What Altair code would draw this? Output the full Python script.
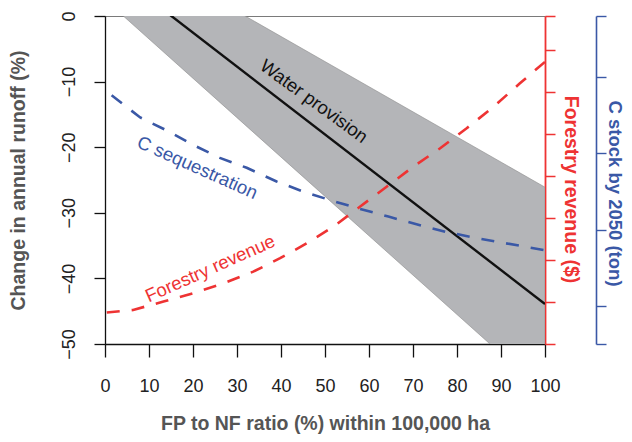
import altair as alt
import pandas as pd

# ---------------- data ----------------
x_ticks = [0, 10, 20, 30, 40, 50, 60, 70, 80, 90, 100]
y_ticks = [0, -10, -20, -30, -40, -50]

# Water provision (change in annual runoff, %) with its uncertainty band
water_x = [0, 100]
water_mid = [7.8, -43.9]
water_hi = [12.2, -26.1]
water_lo = [2.5, -57.5]

# C sequestration (right blue axis, unlabelled units)
cseq_x = [1.5, 8, 14, 20, 26.1, 32.2, 39, 45, 51.5, 58, 64.4, 70.8, 77.5, 84.3, 91.1, 100]
cseq_y = [3.76, 3.47, 3.30, 3.11, 2.94, 2.81, 2.63, 2.50, 2.38, 2.27, 2.17, 2.07, 1.97, 1.89, 1.82, 1.73]

# Forestry revenue (right red axis, unlabelled units)
rev_x = [0.4, 6.4, 13.3, 20.1, 26.9, 33.7, 39.8, 45.8, 51.9, 58, 64, 70.1, 76.1, 82.2, 88.3, 94.3, 100]
rev_y = [0.75, 0.81, 1.01, 1.21, 1.44, 1.72, 2.04, 2.39, 2.79, 3.27, 3.74, 4.22, 4.65, 5.13, 5.64, 6.20, 6.71]

red_ticks = [0, 1, 2, 3, 4, 5, 6, 7, 7.8]
blue_ticks = [0.5, 1, 2, 3, 4, 4.8]

label_text = ["Water provision", "C sequestration", "Forestry revenue"]
label_x = [47.5, 21, 23.9]
label_y = [-13.0, -23.1, -38.5]
label_angle = [36, 24, 336]

# ---------------- styling ----------------
FONT = "Liberation Sans"
RED = "#ee3333"
BLUE = "#3a58a6"
GRAY_BAND = "#b4b5b8"
TITLE_GRAY = "#555555"
LABEL_COLORS = ["#111111", BLUE, RED]

water_df = pd.DataFrame({"x": water_x, "mid": water_mid, "hi": water_hi, "lo": water_lo})
cseq_df = pd.DataFrame({"x": cseq_x, "y": cseq_y})
rev_df = pd.DataFrame({"x": rev_x, "y": rev_y})

xs = alt.Scale(domain=[0, 100], nice=False, zero=False)
ys = alt.Scale(domain=[-50, 0], nice=False, zero=False)

x_axis = alt.Axis(
    values=x_ticks, grid=False, tickSize=13, tickColor="#111", domainColor="#111",
    domainWidth=1.3, tickWidth=1.3, labelFontSize=18, labelFont=FONT, labelColor="#222",
    labelBaseline="middle", labelPadding=29, labelFlush=False,
    title="FP to NF ratio (%) within 100,000 ha", titleFont=FONT, titleFontSize=19.5,
    titleFontWeight="bold", titleColor=TITLE_GRAY, titleX=220, titleY=79,
    titleBaseline="middle", titleAlign="center",
)
y_axis = alt.Axis(
    values=y_ticks, grid=False, tickSize=11, tickColor="#111", domainColor="#111",
    domainWidth=1.3, tickWidth=1.3, labelFontSize=18, labelFont=FONT, labelColor="#222",
    labelAngle=270, labelAlign="center", labelBaseline="middle", labelPadding=25,
    labelFlush=False,
    title="Change in annual runoff (%)", titleFont=FONT, titleFontSize=19.5,
    titleFontWeight="bold", titleColor=TITLE_GRAY, titleAngle=270,
    titleX=-87, titleY=164, titleBaseline="middle", titleAlign="center",
)

X = alt.X("x:Q", scale=xs, axis=x_axis)

band = alt.Chart(water_df).mark_area(
    color=GRAY_BAND, clip=True, stroke="#8c8c8c", strokeWidth=0.6
).encode(x=X, y=alt.Y("hi:Q", scale=ys, axis=y_axis), y2="lo:Q")

line = alt.Chart(water_df).mark_line(color="#111111", strokeWidth=2.4, clip=True).encode(
    x=X, y=alt.Y("mid:Q", scale=ys, axis=y_axis)
)

texts = []
for i in range(len(label_text)):
    tdf = pd.DataFrame({"x": [label_x[i]], "y": [label_y[i]], "t": [label_text[i]]})
    texts.append(
        alt.Chart(tdf).mark_text(
            angle=label_angle[i], color=LABEL_COLORS[i], fontSize=18.5, font=FONT,
            align="center", baseline="middle",
        ).encode(x=X, y=alt.Y("y:Q", scale=ys, axis=y_axis), text="t:N")
    )

main = alt.layer(band, line, *texts)

red_axis = alt.Axis(
    orient="right", values=red_ticks, labels=False, grid=False, tickSize=10,
    tickColor=RED, domainColor=RED, domainWidth=1.8, tickWidth=1.5,
    title="Forestry revenue ($)", titleFont=FONT, titleFontSize=19.5, titleFontWeight="bold",
    titleColor=RED, titleAngle=90, titleX=25, titleY=173, titleBaseline="middle",
    titleAlign="center",
)
red = alt.Chart(rev_df).mark_line(
    color=RED, strokeDash=[13, 12], strokeWidth=2.6, clip=True
).encode(
    x=X,
    y=alt.Y("y:Q", scale=alt.Scale(domain=[0, 7.8], nice=False, zero=False), axis=red_axis),
)

blue_axis = alt.Axis(
    orient="right", offset=51, values=blue_ticks, labels=False, grid=False, tickSize=10,
    tickColor=BLUE, domainColor=BLUE, domainWidth=1.6, tickWidth=1.4,
    title="C stock by 2050 (ton)", titleFont=FONT, titleFontSize=18.5, titleFontWeight="bold",
    titleColor=BLUE, titleAngle=90, titleX=18, titleY=177, titleBaseline="middle",
    titleAlign="center",
)
blue = alt.Chart(cseq_df).mark_line(
    color=BLUE, strokeDash=[13, 12], strokeWidth=2.6, clip=True
).encode(
    x=X,
    y=alt.Y("y:Q", scale=alt.Scale(domain=[0.5, 4.8], nice=False, zero=False), axis=blue_axis),
)

chart = (
    alt.layer(main, red, blue)
    .resolve_scale(y="independent")
    .properties(
        width=440,
        height=328,
        padding={"left": 97, "top": 8, "right": 79, "bottom": 90},
        autosize=alt.AutoSizeParams(type="none"),
        background="white",
    )
    .configure_view(stroke="#7a7a7a", strokeWidth=1)
)

chart.save("out.html", embed_options={"renderer": "svg", "actions": False})
